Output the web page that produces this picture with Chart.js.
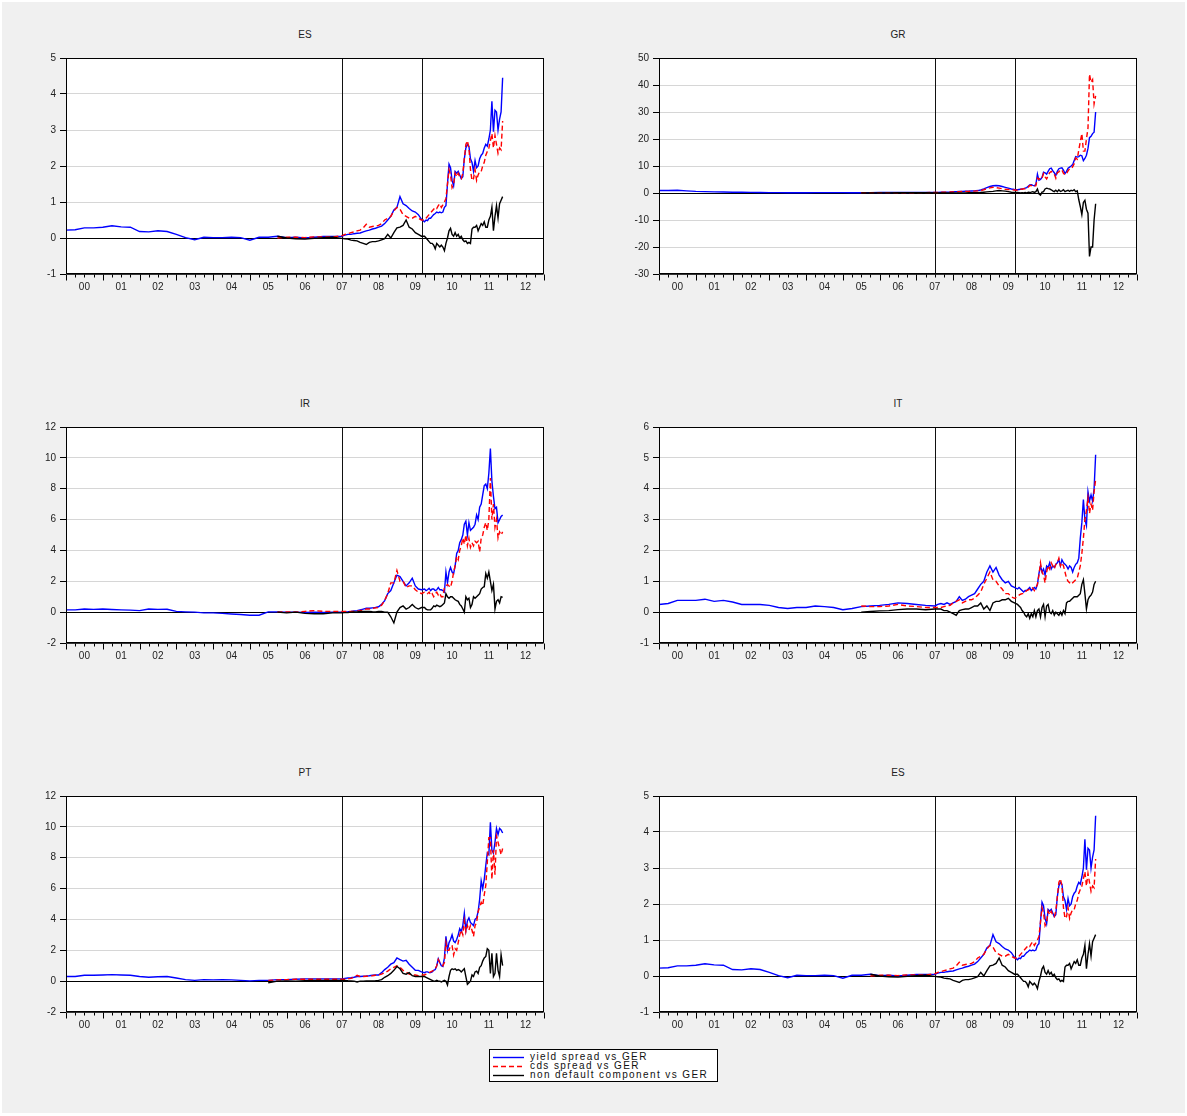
<!DOCTYPE html>
<html><head><meta charset="utf-8">
<script src="https://cdn.jsdelivr.net/npm/chart.js@4.4.1/dist/chart.umd.min.js"></script>
<style>
body{margin:0;background:#fff;width:1187px;height:1116px;overflow:hidden;font-family:"Liberation Sans",Arial,sans-serif;position:relative;}
#bg{position:absolute;left:2px;top:2px;width:1183px;height:1111px;background:#f0f0f0;}
canvas{position:absolute;}
.title{position:absolute;font-size:10px;color:#222;transform:translate(-50%,-50%);white-space:nowrap;}
#legend{position:absolute;left:489px;top:1049px;width:227px;height:31px;border:1px solid #000;background:#fff;}
.row{position:absolute;left:0;height:9px;width:227px;}
.row svg{position:absolute;left:3px;top:0;}
.row span{position:absolute;left:40px;top:-1px;font-size:10px;line-height:10px;letter-spacing:1.4px;color:#111;white-space:nowrap;}
</style></head><body>
<div id="bg"></div>
<div id="legend"></div>
<script>
// ---------------- data ----------------
const dates = [
 2000,2000.25,2000.5,2000.75,2001,2001.25,2001.5,2001.75,2002,2002.25,2002.5,2002.75,2003,2003.25,2003.5,2003.75,2004,2004.25,2004.5,2004.75,2005,2005.25,2005.5,2005.75,2006,2006.25,2006.5,2006.75,2007,2007.25,
 2007.5,2007.583,2007.667,2007.75,2007.833,2007.917,2008,2008.083,2008.167,2008.25,2008.333,2008.417,2008.5,2008.583,2008.667,2008.75,2008.833,2008.917,2009,2009.083,2009.167,2009.25,2009.333,2009.417,2009.5,2009.583,2009.667,
 2009.75,2009.792,2009.833,2009.875,2009.917,2009.958,2010,2010.042,2010.083,2010.125,2010.167,2010.208,2010.25,2010.292,2010.333,2010.375,2010.417,2010.458,2010.5,2010.542,2010.583,2010.625,2010.667,2010.708,2010.75,2010.792,2010.833,2010.875,2010.917,2010.958,
 2011,2011.042,2011.083,2011.125,2011.167,2011.208,2011.25,2011.292,2011.333,2011.375,2011.417,2011.458,2011.5,2011.542,2011.583,2011.625,2011.667,2011.708,2011.75,2011.792,2011.833,2011.875
];
const xTickLabels = ['00','01','02','03','04','05','06','07','08','09','10','11','12'];
const seriesNames = ['yield spread vs GER','cds spread vs GER','non default component vs GER'];
const breakDates = [2007.5, 2009.68];

const esYield = [
 0.22,0.23,0.28,0.28,0.30,0.34,0.31,0.30,0.18,0.17,0.20,0.18,0.10,0.01,-0.05,0.02,0.01,0.01,0.02,0.01,-0.06,0.02,0.02,0.05,0.01,0.02,0.00,0.02,0.04,0.04,
 0.05,0.08,0.10,0.10,0.12,0.13,0.14,0.17,0.20,0.22,0.25,0.27,0.30,0.33,0.40,0.50,0.60,0.78,0.85,1.15,0.95,0.90,0.82,0.75,0.72,0.65,0.52,
 0.45,0.50,0.48,0.55,0.55,0.60,0.65,0.68,0.72,0.70,0.72,0.70,0.72,0.85,0.90,1.50,2.05,1.95,1.60,1.45,1.85,1.80,1.85,1.75,1.65,1.70,2.20,2.50,2.60,2.55,
 2.20,2.10,1.85,2.15,1.95,2.00,2.20,2.30,2.35,2.50,2.60,2.55,2.75,3.00,3.80,2.95,3.55,3.50,3.00,3.30,3.50,4.45
];
const esCds = [
 null,null,null,null,null,null,null,null,null,null,null,null,null,null,null,null,null,null,null,null,null,null,null,0.00,0.02,0.02,0.01,0.03,0.03,0.03,
 0.06,0.10,0.12,0.15,0.17,0.20,0.22,0.28,0.38,0.30,0.32,0.33,0.35,0.40,0.50,0.55,0.60,0.75,0.85,0.80,0.65,0.60,0.55,0.55,0.60,0.55,0.50,
 0.50,0.55,0.60,0.65,0.70,0.75,0.80,0.85,0.82,0.90,0.95,0.85,0.92,1.00,1.10,1.50,1.90,1.75,1.40,1.50,1.80,1.70,1.80,1.70,1.65,1.80,2.20,2.60,2.70,2.50,
 1.90,1.60,1.65,1.90,1.60,1.75,1.85,1.85,2.00,2.10,2.30,2.40,2.50,2.70,2.90,2.50,2.85,2.60,2.35,2.50,2.45,3.25
];
const esNonDefault = [
 null,null,null,null,null,null,null,null,null,null,null,null,null,null,null,null,null,null,null,null,null,null,null,0.05,0.00,-0.02,-0.03,-0.01,0.01,0.02,
 -0.01,-0.02,-0.03,-0.06,-0.07,-0.08,-0.12,-0.15,-0.18,-0.12,-0.10,-0.10,-0.08,-0.05,-0.02,0.10,0.00,0.15,0.28,0.30,0.35,0.50,0.30,0.25,0.15,0.10,0.05,
 0.05,0.00,-0.05,-0.10,-0.15,-0.15,-0.20,-0.30,-0.15,-0.20,-0.25,-0.20,-0.25,-0.35,-0.15,0.00,0.20,0.27,0.10,0.05,0.15,0.05,0.10,0.00,0.05,-0.05,-0.10,-0.08,-0.15,-0.12,
 -0.15,0.25,0.30,0.30,0.35,0.20,0.30,0.40,0.35,0.45,0.30,0.30,0.50,0.60,0.85,0.20,0.60,0.90,0.55,0.95,1.05,1.15
];

const grYield = [
 0.9,0.9,1.0,0.8,0.6,0.5,0.4,0.35,0.3,0.3,0.25,0.2,0.15,0.15,0.12,0.12,0.12,0.15,0.15,0.15,0.15,0.12,0.12,0.15,0.18,0.2,0.22,0.2,0.22,0.22,
 0.25,0.25,0.28,0.3,0.32,0.35,0.45,0.5,0.55,0.6,0.65,0.7,0.75,0.8,0.9,1.1,1.5,2.0,2.4,2.7,2.8,2.7,2.4,2.1,1.8,1.5,1.3,
 1.2,1.3,1.4,1.5,1.6,1.8,2.0,2.5,3.0,3.1,2.8,2.7,3.2,7.0,4.7,5.0,5.8,7.7,7.5,7.0,8.0,9.0,9.2,8.3,7.5,6.5,8.0,9.0,9.2,9.3,
 8.5,7.2,8.0,9.2,9.6,10.0,10.5,12.0,13.5,13.3,13.5,14.0,13.8,12.0,12.8,14.0,16.5,20.5,21.0,22.0,22.5,30.0
];
const grCds = [
 null,null,null,null,null,null,null,null,null,null,null,null,null,null,null,null,null,null,null,null,null,null,0.1,0.12,0.15,0.15,0.12,0.12,0.12,0.15,
 0.2,0.2,0.25,0.3,0.3,0.35,0.4,0.45,0.5,0.55,0.6,0.6,0.65,0.7,0.8,0.9,1.2,1.6,1.9,2.1,2.0,1.8,1.6,1.4,1.3,1.2,1.1,
 1.0,1.2,1.4,1.4,1.6,1.6,2.0,2.2,2.8,2.8,2.3,2.5,2.7,5.5,5.0,5.8,5.5,7.2,6.0,5.2,6.4,7.5,8.0,7.5,7.0,5.5,7.5,7.8,8.6,8.5,
 7.3,6.7,7.2,8.2,9.0,9.0,9.7,10.8,13.0,12.5,16.0,19.0,22.0,15.5,15.5,20.0,24.0,44.0,41.0,42.0,33.0,36.0
];
const grNonDefault = [
 null,null,null,null,null,null,null,null,null,null,null,null,null,null,null,null,null,null,null,null,null,null,0.0,0.02,0.03,0.05,0.1,0.08,0.1,0.07,
 0.05,0.05,0.03,0.0,0.02,0.0,0.05,0.05,0.05,0.05,0.05,0.1,0.1,0.1,0.1,0.2,0.3,0.4,0.5,0.6,0.8,0.9,0.8,0.7,0.5,0.3,0.2,
 0.2,0.1,0.0,0.1,0.0,0.2,0.0,0.3,0.2,0.3,0.5,0.2,0.5,1.5,-0.3,-0.8,0.3,0.5,1.5,1.8,1.6,1.5,1.2,0.8,0.5,1.0,0.5,1.2,0.6,0.8,
 1.2,0.5,0.8,1.0,0.6,1.0,0.8,1.2,0.5,0.8,-2.5,-5.0,-8.0,-3.5,-2.7,-6.0,-7.5,-23.5,-20.0,-20.0,-10.0,-4.0
];

const irYield = [
 0.15,0.15,0.2,0.18,0.2,0.17,0.15,0.13,0.1,0.2,0.18,0.19,0.05,0.02,0.0,-0.05,-0.05,-0.08,-0.12,-0.15,-0.2,-0.2,0.02,0.02,0.0,0.0,-0.02,0.0,-0.02,0.0,
 0.0,0.02,0.03,0.05,0.08,0.1,0.15,0.2,0.25,0.25,0.28,0.3,0.35,0.5,0.75,1.2,1.4,1.9,2.4,2.3,2.0,1.7,1.9,2.2,1.7,1.5,1.45,
 1.5,1.4,1.45,1.55,1.4,1.5,1.5,1.4,1.45,1.6,1.45,1.45,1.4,1.3,2.6,1.9,2.6,2.9,2.6,2.5,3.0,3.8,4.0,4.5,4.7,5.0,5.7,5.9,5.0,5.8,
 5.3,5.4,5.5,5.7,6.3,6.0,6.8,7.0,7.6,8.2,8.3,8.0,9.0,10.6,8.5,7.5,6.7,6.8,5.8,6.0,6.2,6.3
];
const irCds = [
 null,null,null,null,null,null,null,null,null,null,null,null,null,null,null,null,null,null,null,null,null,null,null,0.0,0.02,0.0,0.05,0.1,0.05,0.05,
 0.05,0.05,0.05,0.05,0.06,0.08,0.1,0.15,0.2,0.2,0.25,0.28,0.3,0.45,0.75,1.2,1.9,1.9,2.7,2.0,2.0,1.6,1.7,1.7,1.45,1.3,1.2,
 1.3,1.3,1.2,1.3,1.1,1.2,1.0,1.2,1.3,1.1,1.2,1.0,1.0,1.6,1.7,1.8,1.7,1.6,2.0,2.6,3.0,3.6,3.4,4.0,4.3,4.8,4.4,5.0,4.3,4.8,
 4.2,4.5,4.3,4.6,4.5,4.6,3.9,4.8,5.0,5.5,5.8,5.3,6.0,8.7,6.0,7.0,5.5,6.0,4.8,5.2,5.0,5.2
];
const irNonDefault = [
 null,null,null,null,null,null,null,null,null,null,null,null,null,null,null,null,null,null,null,null,null,null,null,0.0,-0.05,0.0,-0.08,-0.1,-0.1,-0.05,
 -0.05,-0.03,-0.02,0.0,0.02,0.02,0.05,0.05,0.05,0.05,0.03,0.02,0.05,0.05,0.0,0.0,-0.3,-0.7,0.0,0.3,0.4,0.2,0.3,0.5,0.3,0.2,0.3,
 0.3,0.2,0.15,0.15,0.15,0.25,0.4,0.35,0.45,0.4,0.35,0.4,0.5,0.6,1.2,1.0,0.9,1.0,1.0,0.9,0.8,0.75,0.7,0.5,0.4,0.2,0.0,1.0,0.8,0.9,
 0.3,0.5,1.0,0.9,1.0,1.1,1.2,1.5,1.6,1.65,2.5,2.2,2.6,2.0,1.4,1.8,0.2,0.7,0.8,0.6,1.0,0.95
];

const itYield = [
 0.25,0.28,0.38,0.38,0.38,0.42,0.35,0.38,0.33,0.25,0.25,0.25,0.22,0.15,0.12,0.15,0.15,0.2,0.18,0.15,0.08,0.12,0.18,0.2,0.22,0.25,0.3,0.28,0.25,0.22,
 0.2,0.25,0.28,0.25,0.3,0.25,0.3,0.35,0.5,0.38,0.42,0.5,0.55,0.6,0.75,0.9,1.0,1.3,1.5,1.3,1.45,1.2,1.05,0.95,1.0,0.85,0.8,
 0.75,0.8,0.75,0.7,0.65,0.7,0.7,0.75,0.8,0.7,0.75,0.8,0.75,0.9,1.25,1.5,1.3,1.4,1.2,1.5,1.45,1.6,1.4,1.5,1.45,1.55,1.6,1.7,1.5,1.7,
 1.6,1.55,1.5,1.4,1.5,1.45,1.3,1.45,1.55,1.6,1.75,2.4,2.9,3.65,3.0,2.8,3.9,3.6,3.8,3.6,4.0,5.1
];
const itCds = [
 null,null,null,null,null,null,null,null,null,null,null,null,null,null,null,null,null,null,null,null,null,null,0.2,0.18,0.18,0.2,0.25,0.2,0.18,0.15,
 0.15,0.15,0.15,0.18,0.2,0.22,0.3,0.35,0.4,0.3,0.35,0.4,0.4,0.45,0.55,0.65,0.9,1.1,1.3,1.05,1.0,0.85,0.75,0.6,0.6,0.5,0.45,
 0.5,0.55,0.58,0.6,0.6,0.65,0.7,0.72,0.75,0.8,0.78,0.7,0.8,0.9,1.2,1.6,1.3,1.2,0.95,1.3,1.5,1.4,1.6,1.5,1.4,1.55,1.6,1.75,1.5,1.6,
 1.5,1.3,1.1,1.0,0.95,0.9,0.95,1.0,1.05,1.1,1.3,1.5,1.9,2.4,3.0,3.3,3.7,3.2,3.5,3.3,3.9,4.3
];
const itNonDefault = [
 null,null,null,null,null,null,null,null,null,null,null,null,null,null,null,null,null,null,null,null,null,null,0.0,0.02,0.04,0.05,0.08,0.1,0.1,0.08,
 0.1,0.1,0.1,0.05,0.05,0.0,-0.05,-0.1,0.05,0.08,0.1,0.1,0.15,0.2,0.2,0.3,0.1,0.2,0.05,0.3,0.35,0.35,0.4,0.4,0.45,0.35,0.3,
 0.25,0.2,0.15,0.05,0.0,-0.1,-0.15,-0.05,-0.2,-0.05,-0.15,0.05,-0.15,0.05,0.1,-0.15,0.15,0.25,-0.15,0.2,0.25,0.0,-0.05,0.05,-0.1,0.0,-0.05,-0.1,0.0,-0.1,
 0.05,-0.05,0.3,0.35,0.35,0.4,0.45,0.5,0.5,0.5,0.55,0.6,0.9,1.05,0.6,0.1,0.4,0.5,0.55,0.65,0.9,1.0
];

const ptYield = [
 0.3,0.3,0.38,0.38,0.4,0.42,0.4,0.38,0.3,0.25,0.28,0.3,0.2,0.1,0.05,0.1,0.08,0.1,0.08,0.05,0.02,0.05,0.05,0.1,0.1,0.12,0.15,0.15,0.15,0.15,
 0.15,0.18,0.2,0.22,0.25,0.3,0.3,0.32,0.33,0.35,0.38,0.4,0.4,0.55,0.75,0.9,1.1,1.2,1.5,1.4,1.3,1.35,1.1,0.9,0.7,0.7,0.6,
 0.55,0.6,0.6,0.55,0.55,0.6,0.7,0.75,1.0,1.45,1.2,1.0,0.95,1.5,2.9,2.0,2.5,2.7,3.0,2.6,2.5,2.7,3.0,3.4,3.2,3.6,4.4,3.3,3.9,4.1,
 3.8,3.7,3.6,4.0,4.1,4.5,5.3,6.5,6.0,6.6,7.5,8.3,8.2,10.3,8.5,8.3,9.0,9.9,9.5,9.9,9.8,9.6
];
const ptCds = [
 null,null,null,null,null,null,null,null,null,null,null,null,null,null,null,null,null,null,null,null,null,null,0.05,0.08,0.1,0.12,0.12,0.12,0.12,0.12,
 0.12,0.12,0.15,0.18,0.25,0.38,0.3,0.3,0.32,0.33,0.35,0.38,0.4,0.45,0.55,0.65,0.8,0.9,1.0,0.9,0.7,0.6,0.45,0.4,0.4,0.35,0.4,
 0.4,0.45,0.5,0.55,0.6,0.65,0.7,0.8,1.0,1.4,1.2,1.1,1.0,1.2,2.5,2.0,2.0,2.3,2.3,1.7,2.1,2.0,2.5,3.0,3.3,3.0,3.9,3.2,3.6,3.3,
 3.6,3.3,2.9,3.6,3.8,4.5,4.8,5.1,4.9,5.6,6.2,7.7,9.3,9.3,6.6,8.5,6.9,9.4,9.0,8.6,8.2,8.6
];
const ptNonDefault = [
 null,null,null,null,null,null,null,null,null,null,null,null,null,null,null,null,null,null,null,null,null,null,-0.1,0.0,0.02,0.0,0.03,0.05,0.05,0.05,
 0.05,0.05,0.03,0.02,0.0,-0.05,0.0,0.0,0.02,0.02,0.02,0.03,0.05,0.1,0.25,0.35,0.5,0.7,0.95,0.8,0.5,0.45,0.55,0.35,0.3,0.3,0.3,
 0.3,0.25,0.2,0.15,0.1,0.05,0.0,0.0,0.05,0.0,0.0,-0.05,0.0,0.05,0.0,-0.25,0.3,0.7,0.8,0.75,0.8,0.7,0.75,0.7,0.6,0.7,0.8,0.3,-0.2,-0.1,
 0.0,0.4,0.3,0.6,0.65,0.5,0.9,1.0,1.3,1.5,1.6,2.1,2.0,0.5,1.8,0.3,0.5,1.8,0.7,0.3,1.7,1.0
];

// ---------------- layout / style ----------------
const panels = [
  {title:'ES', vals:[esYield, esCds, esNonDefault], yMin:-1, yMax:5, yStep:1, L:66, T:58, R:544, B:274},
  {title:'GR', vals:[grYield, grCds, grNonDefault], yMin:-30, yMax:50, yStep:10, L:659, T:58, R:1137, B:274},
  {title:'IR', vals:[irYield, irCds, irNonDefault], yMin:-2, yMax:12, yStep:2, L:66, T:427, R:544, B:643},
  {title:'IT', vals:[itYield, itCds, itNonDefault], yMin:-1, yMax:6, yStep:1, L:659, T:427, R:1137, B:643},
  {title:'PT', vals:[ptYield, ptCds, ptNonDefault], yMin:-2, yMax:12, yStep:2, L:66, T:796, R:544, B:1012},
  {title:'ES', vals:[esYield, esCds, esNonDefault], yMin:-1, yMax:5, yStep:1, L:659, T:796, R:1137, B:1012}
];
const lineStyles = [
  {color:'#0000ff', dash:[], width:1.4, order:3},
  {color:'#ff0000', dash:[5,3], width:1.4, order:2},
  {color:'#000000', dash:[], width:1.4, order:1}
];
const FONT = '"Liberation Sans", Arial, sans-serif';
Chart.defaults.font.family = FONT;
Chart.defaults.font.size = 10;

const framePlugin = {
  id:'frame',
  beforeDraw(chart){
    const a = chart.chartArea, c = chart.ctx;
    c.save(); c.fillStyle = '#fff';
    c.fillRect(a.left, a.top, a.right - a.left, a.bottom - a.top);
    c.restore();
  },
  beforeDatasetsDraw(chart){
    const a = chart.chartArea, c = chart.ctx, xs = chart.scales.x;
    c.save(); c.strokeStyle = '#111'; c.lineWidth = 1;
    breakDates.forEach(d => {
      const px = Math.round(xs.getPixelForValue(d)) + 0.5;
      c.beginPath(); c.moveTo(px, a.top); c.lineTo(px, a.bottom); c.stroke();
    });
    c.restore();
  },
  afterDraw(chart){
    const a = chart.chartArea, c = chart.ctx, xs = chart.scales.x;
    c.save(); c.strokeStyle = '#000'; c.lineWidth = 1;
    const l = Math.round(a.left) + 0.5, t = Math.round(a.top) + 0.5;
    const r = Math.round(a.right) - 0.5, b = Math.round(a.bottom) - 0.5;
    c.strokeRect(l, t, r - l, b - t);
    c.lineWidth = 1.5;
    c.beginPath(); c.moveTo(l, b + 0.5); c.lineTo(r, b + 0.5); c.stroke();
    c.lineWidth = 1;
    for (let q = xs.min; q <= xs.max + 1e-9; q += 0.25) {
      const px = Math.round(xs.getPixelForValue(q)) + 0.5;
      const len = Math.abs(q - Math.round(q)) < 1e-6 ? 6 : 3;
      c.beginPath(); c.moveTo(px, b + 1); c.lineTo(px, b + 1 + len); c.stroke();
    }
    c.restore();
  }
};

function makeChart(p){
  const W = (p.R - p.L) + 50 + 10, H = (p.B - p.T) + 10 + 28;
  const cv = document.createElement('canvas');
  cv.width = W; cv.height = H; cv.style.width = W + 'px'; cv.style.height = H + 'px';
  cv.style.left = (p.L - 50) + 'px'; cv.style.top = (p.T - 10) + 'px';
  document.body.appendChild(cv);

  const t = document.createElement('div');
  t.className = 'title'; t.textContent = p.title;
  t.style.left = ((p.L + p.R) / 2) + 'px'; t.style.top = (p.T - 24) + 'px';
  document.body.appendChild(t);

  const datasets = p.vals.map((v, i) => ({
    label: seriesNames[i],
    data: dates.map((d, j) => ({x: d, y: v[j]})),
    borderColor: lineStyles[i].color,
    borderDash: lineStyles[i].dash,
    borderWidth: lineStyles[i].width,
    order: lineStyles[i].order,
    pointRadius: 0, fill: false, tension: 0, spanGaps: false
  }));

  const chart = new Chart(cv, {
    type: 'line',
    data: {datasets},
    plugins: [framePlugin],
    options: {
      responsive: false, maintainAspectRatio: false, animation: false, events: [],
      layout: {padding: {left: 0, right: 10, top: 10, bottom: 0}},
      plugins: {legend: {display: false}, tooltip: {enabled: false}},
      scales: {
        x: {
          type: 'linear', min: 2000, max: 2013,
          afterBuildTicks: s => { s.ticks = xTickLabels.map((lab, i) => ({value: 2000.5 + i})); },
          ticks: {callback: (v, i) => xTickLabels[i], color: '#222', padding: 7, maxRotation: 0, autoSkip: false, font: {size: 10}},
          grid: {display: true, drawOnChartArea: false, drawTicks: false},
          border: {display: false},
          afterFit: s => { s.height = 28; }
        },
        y: {
          min: p.yMin, max: p.yMax,
          ticks: {stepSize: p.yStep, color: '#222', padding: 4, autoSkip: false, font: {size: 10}},
          grid: {
            color: c => (c.tick && c.tick.value === 0) ? '#000' : '#d6d6d6',
            lineWidth: 1, drawTicks: true, tickLength: 6, tickColor: '#000'
          },
          border: {display: false},
          afterFit: s => { s.width = 50; }
        }
      }
    }
  });

  let a = chart.chartArea;
  const dw = (p.R - p.L) - (a.right - a.left);
  const dh = (p.B - p.T) - (a.bottom - a.top);
  if (Math.abs(dw) > 0.5 || Math.abs(dh) > 0.5) {
    chart.resize(W + dw, H + dh);
    a = chart.chartArea;
  }
  cv.style.left = (p.L - a.left) + 'px';
  cv.style.top = (p.T - a.top) + 'px';
}
panels.forEach(makeChart);

// legend
const lg = document.getElementById('legend');
seriesNames.forEach((name, i) => {
  const row = document.createElement('div');
  row.className = 'row'; row.style.top = (3 + i * 9) + 'px';
  const st = lineStyles[i];
  row.innerHTML = '<svg width="32" height="9"><line x1="0" y1="4.5" x2="31" y2="4.5" stroke="' + st.color +
    '" stroke-width="1.4"' + (st.dash.length ? ' stroke-dasharray="' + st.dash.join(',') + '"' : '') + '/></svg>';
  const sp = document.createElement('span'); sp.textContent = name;
  row.appendChild(sp);
  lg.appendChild(row);
});
</script>
</body></html>
